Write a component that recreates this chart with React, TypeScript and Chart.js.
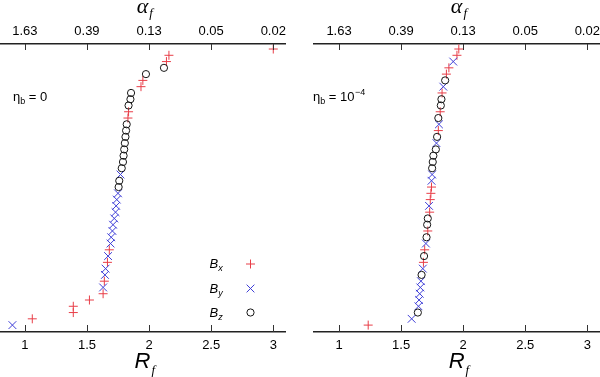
import React, { useEffect, useRef } from 'react';
import { Chart, registerables } from 'chart.js';

Chart.register(...registerables);

// ---- axis ticks ----
const xTicks = [1, 1.5, 2, 2.5, 3];
const topTickLabels = ['1.63', '0.39', '0.13', '0.05', '0.02'];
const legendSubs = ['x', 'y', 'z'];

// ---- left panel (eta_b = 0): R_f values and their rank (1 = bottom) ----
const leftBxRank = [2, 3, 4, 5, 6, 8, 11, 13, 34, 35, 39, 40, 43, 44, 45];
const leftBxR = [1.06, 1.39, 1.39, 1.52, 1.63, 1.64, 1.665, 1.68, 1.83, 1.835, 1.935, 1.95, 2.14, 2.16, 3.0];
const leftByRank = [1, 7, 9, 10, 12, 14, 15, 16, 17, 18, 19, 20, 21, 22, 25];
const leftByR = [0.9, 1.63, 1.645, 1.65, 1.67, 1.69, 1.695, 1.705, 1.71, 1.72, 1.73, 1.735, 1.74, 1.75, 1.77];
const leftBzRank = [23, 24, 26, 27, 28, 29, 30, 31, 32, 33, 36, 37, 38, 41, 42];
const leftBzR = [1.755, 1.76, 1.78, 1.79, 1.795, 1.8, 1.805, 1.81, 1.815, 1.82, 1.835, 1.85, 1.855, 1.975, 2.12];

// ---- right panel (eta_b = 1e-4) ----
const rightBxRank = [1, 11, 13, 16, 19, 21, 22, 23, 32, 35, 38, 41, 42, 44, 45];
const rightBxR = [1.235, 1.68, 1.69, 1.715, 1.73, 1.735, 1.74, 1.745, 1.8, 1.815, 1.83, 1.865, 1.885, 1.95, 1.965];
const rightByRank = [2, 4, 5, 6, 7, 8, 10, 14, 20, 24, 25, 30, 33, 39, 43];
const rightByR = [1.585, 1.64, 1.645, 1.65, 1.655, 1.66, 1.675, 1.7, 1.725, 1.745, 1.75, 1.785, 1.805, 1.84, 1.92];
const rightBzRank = [3, 9, 12, 15, 17, 18, 26, 27, 28, 29, 31, 34, 36, 37, 40];
const rightBzR = [1.635, 1.665, 1.685, 1.705, 1.71, 1.715, 1.75, 1.755, 1.76, 1.78, 1.79, 1.8, 1.82, 1.825, 1.855];

const RED = 'rgb(232,62,72)';
const BLUE = 'rgb(62,62,215)';
const BLACK = '#151515';
const SANS = '"Liberation Sans", Arial, sans-serif';
const SERIF = '"Liberation Serif", "Times New Roman", serif';

const styles = [
  { pointStyle: 'cross', color: RED, radius: 4.5 },
  { pointStyle: 'crossRot', color: BLUE, radius: 5.5 },
  { pointStyle: 'circle', color: BLACK, radius: 3.6 },
];

function toPoints(r: number[], rank: number[]) {
  return r.map((v, i) => ({ x: v, y: rank[i] }));
}

function drawMarker(ctx: CanvasRenderingContext2D, kind: number, x: number, y: number) {
  const s = styles[kind];
  ctx.save();
  ctx.strokeStyle = s.color;
  ctx.lineWidth = 1;
  ctx.beginPath();
  if (kind === 0) {
    ctx.moveTo(x - s.radius, y); ctx.lineTo(x + s.radius, y);
    ctx.moveTo(x, y - s.radius); ctx.lineTo(x, y + s.radius);
  } else if (kind === 1) {
    const d = s.radius * Math.SQRT1_2;
    ctx.moveTo(x - d, y - d); ctx.lineTo(x + d, y + d);
    ctx.moveTo(x - d, y + d); ctx.lineTo(x + d, y - d);
  } else {
    ctx.arc(x, y, s.radius, 0, Math.PI * 2);
  }
  ctx.stroke();
  ctx.restore();
}

type PanelProps = {
  offset: number;
  padLeft: number;
  padRight: number;
  series: { r: number[]; rank: number[] }[];
  noteValue: string;
  noteSup: string;
  showLegend: boolean;
};

const zeroSidePadding = (scale: any) => {
  scale.paddingLeft = 0;
  scale.paddingRight = 0;
};

function Panel({ offset, padLeft, padRight, series, noteValue, noteSup, showLegend }: PanelProps) {
  const ref = useRef<HTMLCanvasElement>(null);

  useEffect(() => {
    const canvas = ref.current!;
    const overlay = {
      id: 'overlay',
      afterDraw(chart: any) {
        const ctx: CanvasRenderingContext2D = chart.ctx;
        const a = chart.chartArea;
        const sx = chart.scales.x;
        ctx.save();
        // inward tick marks
        ctx.strokeStyle = '#333';
        ctx.lineWidth = 1;
        ctx.beginPath();
        xTicks.forEach((v) => {
          const p = Math.round(sx.getPixelForValue(v)) + 0.5;
          ctx.moveTo(p, a.bottom);
          ctx.lineTo(p, a.bottom - 7);
          ctx.moveTo(p, a.top);
          ctx.lineTo(p, a.top + 6);
        });
        ctx.stroke();

        ctx.fillStyle = '#000';
        ctx.textBaseline = 'alphabetic';
        ctx.textAlign = 'left';
        const cx = (a.left + a.right) / 2 + 2;
        // bottom title R_f
        ctx.font = 'italic 22px ' + SANS;
        const wR = ctx.measureText('R').width;
        ctx.font = 'italic 13px ' + SERIF;
        const wf = ctx.measureText('f').width;
        let x0 = cx - (wR + wf + 1) / 2;
        ctx.font = 'italic 22px ' + SANS;
        ctx.fillText('R', x0, 368);
        ctx.font = 'italic 13px ' + SERIF;
        ctx.fillText('f', x0 + wR + 1, 374);
        // top title alpha_f
        ctx.font = 'italic 22px ' + SERIF;
        const wa = ctx.measureText('α').width;
        x0 = cx - (wa + wf + 1) / 2;
        ctx.fillText('α', x0, 12.5);
        ctx.font = 'italic 13px ' + SERIF;
        ctx.fillText('f', x0 + wa + 1, 16.5);

        // note eta_b = ...
        let nx = 13;
        ctx.font = '13px ' + SANS;
        ctx.fillText('η', nx, 101);
        nx += ctx.measureText('η').width;
        ctx.font = '9px ' + SANS;
        ctx.fillText('b', nx, 104);
        nx += ctx.measureText('b').width;
        ctx.font = '13px ' + SANS;
        const t = ' = ' + noteValue;
        ctx.fillText(t, nx, 101);
        nx += ctx.measureText(t).width;
        if (noteSup) {
          ctx.font = '9px ' + SANS;
          ctx.fillText(noteSup, nx + 0.5, 95);
        }

        // legend
        if (showLegend) {
          const rows = [268, 292.5, 316.5];
          legendSubs.forEach((sub, i) => {
            ctx.fillStyle = '#000';
            ctx.font = 'italic 13px ' + SANS;
            ctx.fillText('B', 209.5, rows[i]);
            const wb = ctx.measureText('B').width;
            ctx.font = 'italic 9px ' + SANS;
            ctx.fillText(sub, 209.5 + wb, rows[i] + 3);
            drawMarker(ctx, i, 250.5, rows[i] - 4);
          });
        }
        ctx.restore();
      },
    };

    const tickFont = { family: SANS, size: 13 };
    const chart = new Chart(canvas, {
      type: 'scatter',
      data: {
        datasets: series.map((s, i) => ({
          label: 'B' + legendSubs[i],
          data: toPoints(s.r, s.rank),
          showLine: false,
          pointStyle: styles[i].pointStyle as any,
          pointRadius: styles[i].radius,
          pointHoverRadius: styles[i].radius,
          borderColor: styles[i].color,
          backgroundColor: 'rgba(0,0,0,0)',
          pointBorderWidth: 1,
          borderWidth: 1,
          order: 2 - i,
        })),
      },
      options: {
        animation: false,
        responsive: false,
        maintainAspectRatio: false,
        devicePixelRatio: 1,
        events: [],
        layout: { autoPadding: false, padding: { left: padLeft, right: padRight, top: 18.4, bottom: 17.4 } },
        plugins: { legend: { display: false }, tooltip: { enabled: false }, title: { display: false } },
        scales: {
          x: {
            type: 'linear',
            position: 'bottom',
            min: 0.8,
            max: 3.1,
            afterBuildTicks: (scale: any) => {
              scale.ticks = xTicks.map((v) => ({ value: v }));
            },
            afterFit: zeroSidePadding,
            grid: { display: false, drawTicks: false },
            border: { display: true, color: '#222', width: 1.5 },
            ticks: {
              font: tickFont,
              color: '#000',
              padding: 6,
              maxRotation: 0,
              autoSkip: false,
              callback: (v: any) => String(v),
            },
          },
          x2: {
            type: 'linear',
            position: 'top',
            min: 0.8,
            max: 3.1,
            afterBuildTicks: (scale: any) => {
              scale.ticks = xTicks.map((v) => ({ value: v }));
            },
            afterFit: zeroSidePadding,
            grid: { display: false, drawTicks: false },
            border: { display: true, color: '#222', width: 1.5 },
            ticks: {
              font: tickFont,
              color: '#000',
              padding: 5,
              maxRotation: 0,
              autoSkip: false,
              callback: (v: any) => {
                const idx = xTicks.indexOf(Number(v));
                return idx >= 0 ? topTickLabels[idx] : '';
              },
            },
          },
          y: { type: 'linear', display: false, min: -0.1, max: 45.8 },
        },
      } as any,
      plugins: [overlay],
    });
    return () => chart.destroy();
  }, []);

  return (
    <canvas
      ref={ref}
      width={300}
      height={377}
      style={{ position: 'absolute', left: offset, top: 0, width: 300, height: 377 }}
    />
  );
}

export default function App() {
  return (
    <div style={{ position: 'absolute', left: 0, top: 0, width: 600, height: 377, background: '#fff' }}>
      <Panel
        offset={0}
        padLeft={0}
        padRight={14.3}
        series={[
          { r: leftBxR, rank: leftBxRank },
          { r: leftByR, rank: leftByRank },
          { r: leftBzR, rank: leftBzRank },
        ]}
        noteValue="0"
        noteSup=""
        showLegend={true}
      />
      <Panel
        offset={300}
        padLeft={14.2}
        padRight={0.3}
        series={[
          { r: rightBxR, rank: rightBxRank },
          { r: rightByR, rank: rightByRank },
          { r: rightBzR, rank: rightBzRank },
        ]}
        noteValue="10"
        noteSup="−4"
        showLegend={false}
      />
    </div>
  );
}
